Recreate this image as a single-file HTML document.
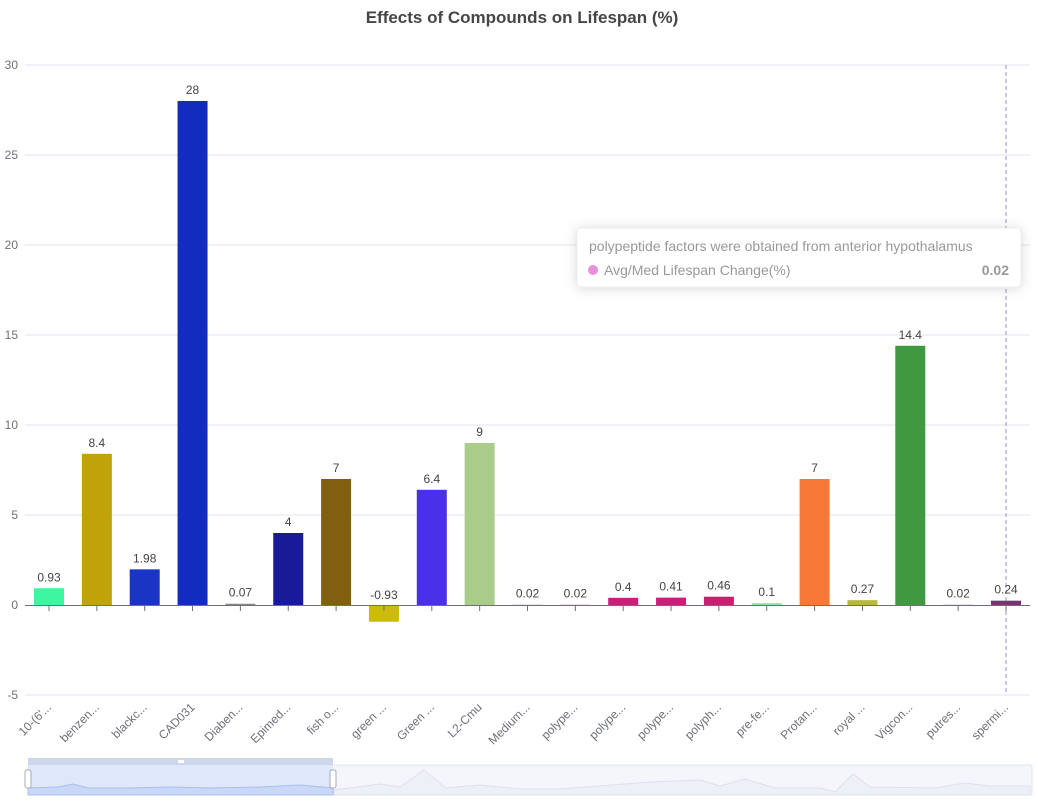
<!DOCTYPE html>
<html><head><meta charset="utf-8"><style>
body{margin:0;background:#fff;}
svg text{font-family:"Liberation Sans",sans-serif;}
</style></head><body>
<svg width="1038" height="800" viewBox="0 0 1038 800" xmlns="http://www.w3.org/2000/svg">
<text x="522" y="23" text-anchor="middle" font-size="17" font-weight="bold" fill="#464646">Effects of Compounds on Lifespan (%)</text>
<g stroke="#e0e6f1" stroke-width="1">
<line x1="25" y1="65" x2="1030" y2="65"/>
<line x1="25" y1="155" x2="1030" y2="155"/>
<line x1="25" y1="245" x2="1030" y2="245"/>
<line x1="25" y1="335" x2="1030" y2="335"/>
<line x1="25" y1="425" x2="1030" y2="425"/>
<line x1="25" y1="515" x2="1030" y2="515"/>
<line x1="25" y1="695" x2="1030" y2="695"/>
</g>
<g font-size="12" fill="#6e7079" text-anchor="end">
<text x="18" y="69">30</text><text x="18" y="159">25</text><text x="18" y="249">20</text>
<text x="18" y="339">15</text><text x="18" y="429">10</text><text x="18" y="519">5</text>
<text x="18" y="609">0</text><text x="18" y="699">-5</text>
</g>
<line x1="1006" y1="65" x2="1006" y2="695" stroke="#9a8fcf" stroke-dasharray="4,3"/>
<g id="bars"></g>
<line x1="25" y1="605.5" x2="1030" y2="605.5" stroke="#6e7079"/>
<g id="ticks"></g>
<g id="labels" font-size="12" fill="#444" text-anchor="middle"></g>
<g id="xl" font-size="12" fill="#6e7079" text-anchor="end"></g>
<!-- tooltip -->
<rect x="577" y="228" width="444" height="59" rx="4" fill="#fff" stroke="#eee" style="filter:drop-shadow(0 1px 6px rgba(0,0,0,0.15))"/>
<text x="589" y="251" font-size="14" fill="#999">polypeptide factors were obtained from anterior hypothalamus</text>
<circle cx="593" cy="270" r="5" fill="#ea8fdc"/>
<text x="604" y="275" font-size="14" fill="#999">Avg/Med Lifespan Change(%)</text>
<text x="1009" y="275" font-size="14" font-weight="bold" fill="#999" text-anchor="end">0.02</text>
<!-- datazoom -->
<rect x="28" y="765" width="1004" height="30" fill="#f4f6fb" stroke="#dfe4ef" rx="2"/>
<path d="M334 790 L380 784 L400 787 L424 770 L446 788 L480 785 L520 789 L560 789 L650 782 L700 780 L720 786 L745 779 L775 788 L820 788 L835 792 L853 774 L870 787 L935 788 L965 783 L990 786 L1030 786 L1030 795 L334 795Z" fill="#eef0f7" stroke="#dde1ec"/>
<rect x="28" y="758" width="305" height="37" fill="#dde6fb" opacity="0.9"/>
<rect x="28" y="758" width="305" height="7" fill="#cdd6ea"/>
<path d="M28 788 L58 787 L73 784 L88 788 L130 788 L170 787 L210 788 L260 787 L300 785 L333 788 L333 795 L28 795Z" fill="#c9d8f7" stroke="#a8bff0"/>
<rect x="25" y="770" width="6" height="18" rx="2" fill="#fff" stroke="#aab"/>
<rect x="330" y="770" width="6" height="18" rx="2" fill="#fff" stroke="#aab"/>
<rect x="178" y="760" width="6" height="3" fill="#fff"/>
</svg>
<script>
var d=[["10-(6'...",0.93,"#3ef5a0"],["benzen...",8.4,"#c0a30a"],["blackc...",1.98,"#1a34c4"],["CAD031",28,"#122cc0"],["Diaben...",0.07,"#888"],["Epimed...",4,"#181a98"],["fish o...",7,"#805f10"],["green ...",-0.93,"#ccbb0a"],["Green ...",6.4,"#4a30e8"],["L2-Cmu",9,"#a9cc8a"],["Medium...",0.02,"#e8a0c8"],["polype...",0.02,"#e0a0d8"],["polype...",0.4,"#c8207a"],["polype...",0.41,"#c8207a"],["polyph...",0.46,"#c82070"],["pre-fe...",0.1,"#80e8a0"],["Protan...",7,"#f87838"],["royal ...",0.27,"#b8b840"],["Vigcon...",14.4,"#409840"],["putres...",0.02,"#d0a0d8"],["spermi...",0.24,"#803070"]];
var ns="http://www.w3.org/2000/svg";
function el(t,a,p,txt){var e=document.createElementNS(ns,t);for(var k in a)e.setAttribute(k,a[k]);if(txt!=null)e.textContent=txt;document.getElementById(p).appendChild(e);}
d.forEach(function(r,i){var cx=49+i*47.85,v=r[1],y0=605,y1=605-18*v,top=Math.min(y0,y1),h=Math.max(Math.abs(y1-y0),1.2);
el("rect",{x:cx-15,y:top,width:30,height:h,fill:r[2]},"bars");
el("line",{x1:cx,y1:606,x2:cx,y2:611,stroke:"#6e7079"},"ticks");
el("text",{x:cx,y:(v>=0?y1-7:y0-6)},"labels",String(v));
el("text",{x:cx+3,y:708,transform:"rotate(-45 "+(cx+3)+" 708)"},"xl",r[0]);});
</script>
</body></html>
